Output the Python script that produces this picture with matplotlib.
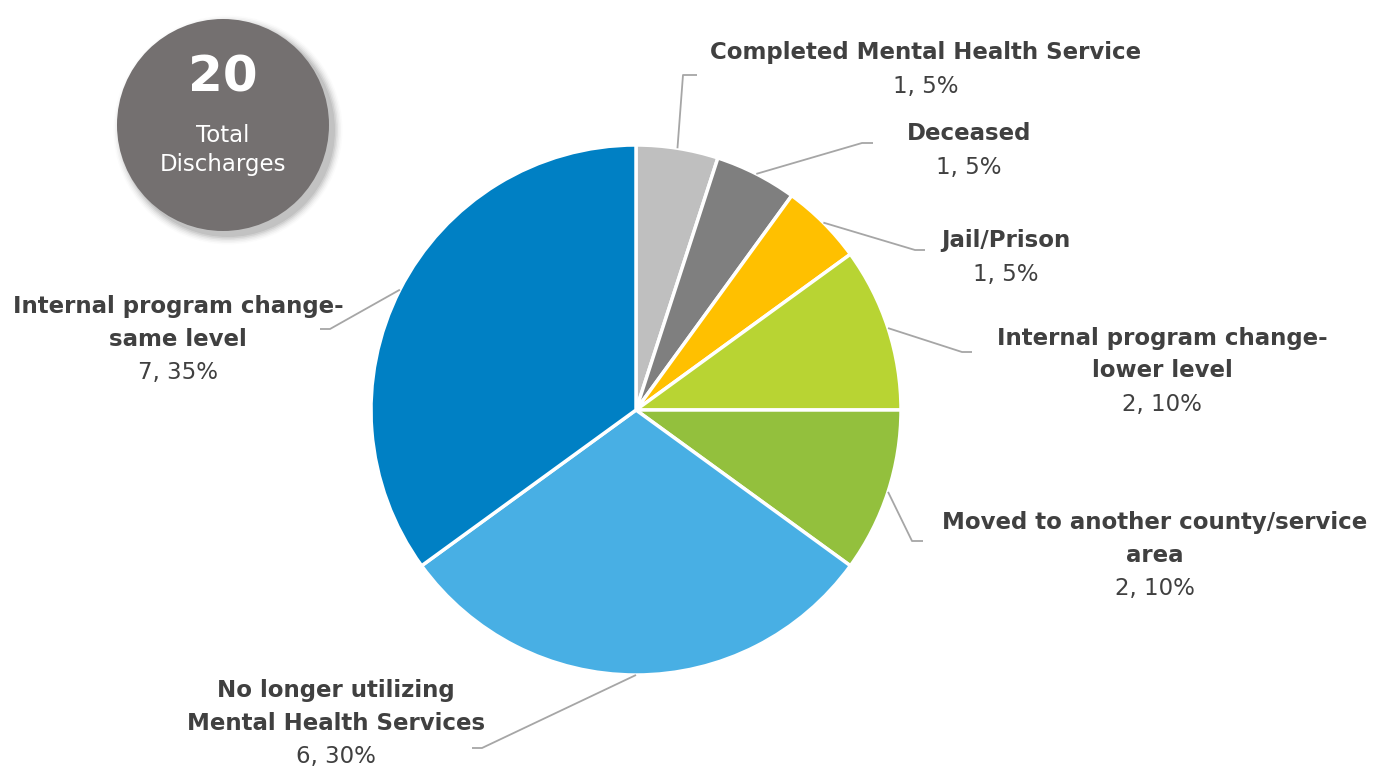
import numpy as np
import matplotlib
matplotlib.use("Agg")
import matplotlib.pyplot as plt
from matplotlib.patches import Circle

# datos
categorias = ["Completed Mental Health Service", "Deceased", "Jail/Prison",
              "Internal program change-\nlower level",
              "Moved to another county/service\narea",
              "No longer utilizing\nMental Health Services",
              "Internal program change-\nsame level"]
valores = [1, 1, 1, 2, 2, 6, 7]
colores = ["#BFBFBF", "#7F7F7F", "#FFC000", "#B8D433", "#93C03D", "#48AFE4", "#0080C4"]
total = sum(valores)

W, H = 1391, 770
cx, cy, R = 636, 410, 265  # pixeles (y hacia abajo)

def py(y):
    return H - y

fig = plt.figure(figsize=(W / 100, H / 100), dpi=100)
ax = fig.add_axes([0, 0, 1, 1])

wedges, _ = ax.pie(valores, colors=colores, startangle=90, counterclock=False,
                   center=(cx, py(cy)), radius=R,
                   wedgeprops=dict(edgecolor="white", linewidth=2.5))
ax.set_xlim(0, W)
ax.set_ylim(0, H)
ax.set_aspect("equal")
ax.axis("off")

# posiciones de etiquetas (centro de la primera linea, pixeles) y codo de la linea guia
lab_pos = [(926, 53), (969, 134), (1006, 241), (1162, 338), (1155, 523), (336, 691), (178, 307)]
codos = [((683, 75), (697, 75)), ((862, 143), (873, 143)), ((915, 250), (925, 250)),
         ((962, 352), (972, 352)), ((912, 541), (923, 541)), ((482, 748), (472, 748)),
         ((330, 329), (320, 329))]

gris_txt = "#404040"
paso = 32.5
for w, cat, v, (lx, ly), (c1, c2) in zip(wedges, categorias, valores, lab_pos, codos):
    ang = np.deg2rad((w.theta1 + w.theta2) / 2)
    x0 = cx + R * np.cos(ang)
    y0 = cy - R * np.sin(ang)
    ax.plot([x0, c1[0], c2[0]], [py(y0), py(c1[1]), py(c2[1])],
            color="#A6A6A6", lw=1.3, solid_capstyle="butt", zorder=1)
    lineas = cat.split("\n")
    for k, t in enumerate(lineas):
        ax.text(lx, py(ly + paso * k), t, ha="center", va="center", fontsize=16.5,
                fontweight="bold", color=gris_txt)
    vy = ly + paso * len(lineas) + 1
    ax.text(lx, py(vy), f"{v}, {round(v / total * 100)}%", ha="center", va="center",
            fontsize=16.5, color=gris_txt)

# circulo del total con sombra
bx, by, br = 223, 125, 106
for i, a in enumerate(np.linspace(0.07, 0.015, 6)):
    ax.add_patch(Circle((bx + 5, py(by + 5)), br + 1 + i * 1.5, color="black",
                        alpha=a, lw=0, zorder=2))
ax.add_patch(Circle((bx, py(by)), br, color="#747070", lw=0, zorder=3))
ax.text(bx, py(78), str(total), ha="center", va="center", fontsize=36,
        fontweight="bold", color="white", zorder=4)
ax.text(bx, py(135), "Total", ha="center", va="center", fontsize=16.5,
        color="white", zorder=4)
ax.text(bx, py(165), "Discharges", ha="center", va="center", fontsize=16.5,
        color="white", zorder=4)

fig.savefig("out.png", dpi=100, facecolor="white")
